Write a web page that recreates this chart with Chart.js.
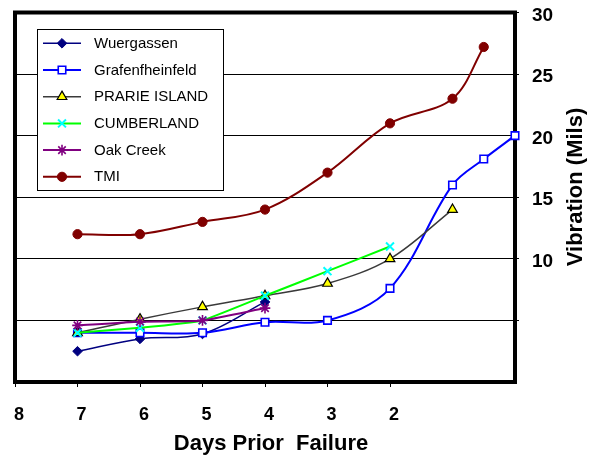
<!DOCTYPE html>
<html>
<head>
<meta charset="utf-8">
<script src="https://cdn.jsdelivr.net/npm/chart.js@4/dist/chart.umd.min.js"></script>
<style>
  html, body { margin: 0; padding: 0; background: #ffffff; }
  #wrap { width: 592px; height: 460px; }
</style>
</head>
<body>
<div id="wrap"><canvas id="c" width="592" height="460"></canvas></div>
<script>
// Axis ticks
const xTickValues = [8, 7, 6, 5, 4, 3, 2];
const xTickLabels = ['8', '7', '6', '5', '4', '3', '2'];
const yTickValues = [5, 10, 15, 20, 25, 30];
const yTickLabels = ['', '10', '15', '20', '25', '30'];

// Series: days prior to failure and vibration (mils)
const wuergassenDays = [7, 6, 5, 4];
const wuergassenMils = [2.5, 3.5, 3.9, 6.5];

const grafenDays = [7, 6, 5, 4, 3, 2, 1, 0.5, 0];
const grafenMils = [4.0, 4.0, 4.0, 4.85, 5.0, 7.6, 16.0, 18.1, 20.0];

const prairieDays = [7, 6, 5, 4, 3, 2, 1];
const prairieMils = [4.0, 5.1, 6.1, 7.0, 8.0, 10.0, 14.0];

const cumberlandDays = [7, 6, 5, 4, 3, 2];
const cumberlandMils = [4.0, 4.4, 5.0, 7.0, 9.0, 11.0];

const oakCreekDays = [7, 6, 5, 4];
const oakCreekMils = [4.6, 4.9, 5.0, 6.0];

const tmiDays = [7, 6, 5, 4, 3, 2, 1, 0.5];
const tmiMils = [12.0, 12.0, 13.0, 14.0, 17.0, 21.0, 23.0, 27.2];

const FONT = "'Liberation Sans', Arial, Helvetica, sans-serif";

function pts(days, vals) {
  return days.map((d, i) => ({ x: d, y: vals[i] }));
}

function series(label, days, vals, s) {
  return {
    label: label,
    data: pts(days, vals),
    borderColor: s.line,
    borderWidth: s.lineWidth,
    backgroundColor: s.fill,
    pointStyle: s.style,
    pointRadius: s.radius,
    pointHoverRadius: s.radius,
    pointBackgroundColor: s.fill,
    pointBorderColor: s.mark,
    pointBorderWidth: s.markWidth,
    tension: s.tension,
    clip: false,
    order: s.order
  };
}

const datasets = [
  series('Wuergassen', wuergassenDays, wuergassenMils,
    { line: '#000080', lineWidth: 1.5, fill: '#000080', mark: '#000080', style: 'rectRot', radius: 4.8, markWidth: 1, tension: 0.35, order: 6 }),
  series('Grafenfheinfeld', grafenDays, grafenMils,
    { line: '#0000ff', lineWidth: 2, fill: '#ffffff', mark: '#0000ff', style: 'rect', radius: 5.3, markWidth: 1.6, tension: 0.35, order: 5 }),
  series('PRARIE ISLAND', prairieDays, prairieMils,
    { line: '#3a3a3a', lineWidth: 1.5, fill: '#ffff00', mark: '#000000', style: 'triangle', radius: 5.6, markWidth: 1.2, tension: 0.35, order: 4 }),
  series('CUMBERLAND', cumberlandDays, cumberlandMils,
    { line: '#00ff00', lineWidth: 2, fill: '#00ffff', mark: '#00ffff', style: 'crossRot', radius: 5.6, markWidth: 2, tension: 0.1, order: 3 }),
  series('Oak Creek', oakCreekDays, oakCreekMils,
    { line: '#800080', lineWidth: 2, fill: '#800080', mark: '#800080', style: 'star', radius: 5.3, markWidth: 1.6, tension: 0.2, order: 2 }),
  series('TMI', tmiDays, tmiMils,
    { line: '#800000', lineWidth: 2, fill: '#800000', mark: '#800000', style: 'circle', radius: 4.6, markWidth: 1, tension: 0.35, order: 1 })
];

// Thick black frame around the plot area
const framePlugin = {
  id: 'frame',
  beforeDatasetsDraw(chart) {
    const { ctx, chartArea: a } = chart;
    ctx.save();
    ctx.strokeStyle = '#000000';
    ctx.lineWidth = 4;
    ctx.strokeRect(a.left, a.top, a.right - a.left, a.bottom - a.top);
    ctx.restore();
  }
};

// Axis titles: horizontal below, vertical reading bottom-to-top on the right
const titlesPlugin = {
  id: 'axisTitles',
  afterDraw(chart) {
    const ctx = chart.ctx;
    ctx.save();
    ctx.fillStyle = '#000000';
    ctx.font = 'bold 22px ' + FONT;
    ctx.textAlign = 'center';
    ctx.textBaseline = 'alphabetic';
    ctx.fillText('Days Prior  Failure', 271, 450);
    ctx.translate(582, 187);
    ctx.rotate(-Math.PI / 2);
    ctx.fillText('Vibration (Mils)', 0, 0);
    ctx.restore();
  }
};

// Boxed legend in the upper-left corner of the plot
const boxLegendPlugin = {
  id: 'boxLegend',
  afterDraw(chart) {
    const ctx = chart.ctx;
    const box = { x: 37, y: 29, w: 186, h: 161 };
    ctx.save();
    ctx.fillStyle = '#ffffff';
    ctx.fillRect(box.x, box.y, box.w, box.h);
    ctx.strokeStyle = '#000000';
    ctx.lineWidth = 1;
    ctx.strokeRect(box.x + 0.5, box.y + 0.5, box.w, box.h);
    const rowTop = 43.3;
    const rowStep = 26.7;
    chart.data.datasets.forEach((ds, i) => {
      const y = rowTop + i * rowStep;
      ctx.strokeStyle = ds.borderColor;
      ctx.lineWidth = ds.borderWidth;
      ctx.beginPath();
      ctx.moveTo(43, y);
      ctx.lineTo(81, y);
      ctx.stroke();
      ctx.fillStyle = ds.pointBackgroundColor;
      ctx.strokeStyle = ds.pointBorderColor;
      ctx.lineWidth = ds.pointBorderWidth;
      Chart.helpers.drawPoint(ctx, {
        pointStyle: ds.pointStyle,
        radius: ds.pointRadius,
        rotation: 0,
        borderWidth: ds.pointBorderWidth
      }, 62, y);
      ctx.fillStyle = '#000000';
      ctx.font = '15px ' + FONT;
      ctx.textAlign = 'left';
      ctx.textBaseline = 'middle';
      ctx.fillText(ds.label, 94, y + 0.5);
    });
    ctx.restore();
  }
};

new Chart(document.getElementById('c'), {
  type: 'line',
  data: { datasets: datasets },
  options: {
    responsive: false,
    animation: false,
    devicePixelRatio: 1,
    layout: { padding: { left: 15, top: 12.5, right: 0, bottom: 0 } },
    plugins: {
      legend: { display: false },
      tooltip: { enabled: false }
    },
    scales: {
      x: {
        type: 'linear',
        min: 0,
        max: 8,
        reverse: true,
        afterBuildTicks(scale) {
          scale.ticks = xTickValues.map(v => ({ value: v }));
        },
        afterFit(scale) {
          scale.height = 78;
          scale.paddingLeft = 0;
          scale.paddingRight = 0;
        },
        border: { display: false },
        grid: {
          drawOnChartArea: false,
          drawTicks: true,
          tickLength: 5,
          color: '#000000',
          lineWidth: 1
        },
        ticks: {
          autoSkip: false,
          maxRotation: 0,
          padding: 17,
          labelOffset: 4,
          color: '#000000',
          font: { family: FONT, size: 18, weight: 'bold' },
          callback: (v, i) => xTickLabels[i]
        }
      },
      y: {
        type: 'linear',
        position: 'right',
        min: 0,
        max: 30,
        afterBuildTicks(scale) {
          scale.ticks = yTickValues.map(v => ({ value: v }));
        },
        afterFit(scale) {
          scale.width = 77;
          scale.paddingTop = 0;
          scale.paddingBottom = 0;
        },
        border: { display: false },
        grid: {
          drawOnChartArea: true,
          drawTicks: true,
          tickLength: 4,
          color: '#000000',
          lineWidth: 1
        },
        ticks: {
          padding: 13,
          labelOffset: 3,
          color: '#000000',
          font: { family: FONT, size: 19, weight: 'bold' },
          callback: (v, i) => yTickLabels[i]
        }
      }
    }
  },
  plugins: [framePlugin, titlesPlugin, boxLegendPlugin]
});
</script>
</body>
</html>
